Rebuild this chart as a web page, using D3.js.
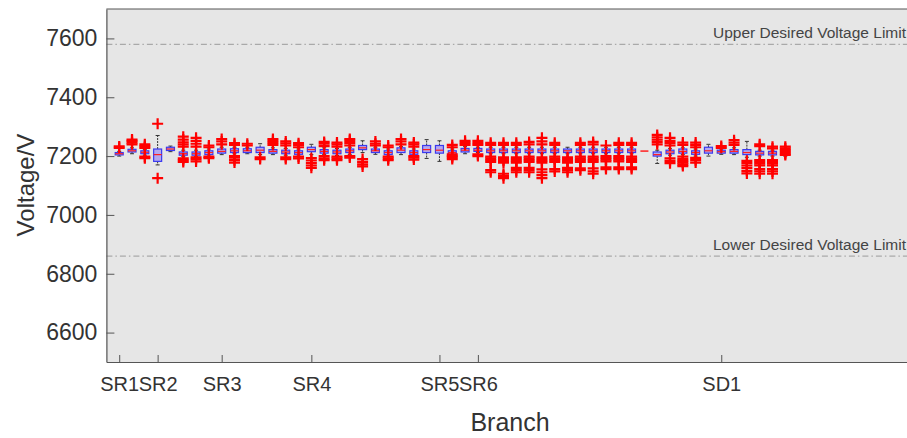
<!DOCTYPE html>
<html>
<head>
<meta charset="utf-8">
<script src="https://cdn.jsdelivr.net/npm/d3@7"></script>
<style>
  html, body { margin: 0; padding: 0; background: #fff; }
  svg { display: block; }
  text { font-family: "Liberation Sans", Arial, sans-serif; fill: #333; }
</style>
</head>
<body>
<svg id="chart" width="907" height="438"></svg>
<script>
// Branch positions (1..53) and their named tick labels
const positions = d3.range(1, 54);
const tickPositions = [1, 4, 9, 16, 26, 29, 48];
const tickLabels = ["SR1", "SR2", "SR3", "SR4", "SR5", "SR6", "SD1"];
const yTicks = [6600, 6800, 7000, 7200, 7400, 7600];

// Box statistics per branch (V)
const q1 = [7204,7214,7208,7182,7219,7203,7203,7205,7210,7212,7212,7212,7210,7208,7206,7215,7210,7208,7212,7222,
            7212,7205,7212,7206,7212,7210,7205,7214,7216,7212,7212,7212,7212,7212,7212,7212,7212,7212,7212,7212,
            7212,7217,7200,7208,7210,7206,7210,7210,7210,7205,7204,7204,7206];
const medians = [7208,7218,7213,7205,7224,7208,7208,7212,7216,7218,7218,7220,7216,7214,7212,7222,7216,7214,7218,7228,
            7218,7212,7220,7212,7222,7220,7212,7220,7220,7218,7218,7218,7218,7218,7218,7218,7218,7218,7218,7218,
            7218,7217,7205,7214,7216,7212,7218,7215,7216,7212,7210,7210,7212];
const q3 = [7212,7223,7218,7224,7230,7214,7214,7218,7224,7225,7225,7230,7222,7220,7218,7230,7222,7220,7224,7236,
            7224,7218,7228,7218,7236,7236,7218,7226,7226,7224,7224,7224,7224,7224,7224,7224,7224,7224,7224,7224,
            7224,7217,7214,7220,7224,7218,7230,7220,7222,7222,7216,7216,7218];
const whiskerLow = [7200,7208,7203,7170,7215,7198,7198,7200,7205,7208,7208,7205,7205,7203,7200,7205,7205,7202,7206,7212,
            7206,7200,7205,7200,7192,7182,7200,7208,7212,7208,7208,7208,7208,7208,7208,7208,7208,7208,7208,7208,
            7208,7217,7175,7203,7205,7200,7200,7206,7205,7196,7200,7200,7200];
const whiskerHigh = [7216,7228,7223,7270,7234,7220,7220,7224,7230,7230,7230,7242,7228,7226,7224,7240,7228,7226,7230,7252,
            7230,7224,7232,7224,7256,7252,7224,7232,7230,7230,7230,7230,7230,7230,7230,7230,7230,7230,7230,7230,
            7230,7217,7220,7225,7228,7224,7240,7224,7228,7250,7220,7220,7222];

// Outlier readings per branch (V)
const outliers = [
  [7228, 7233],
  [7240, 7246, 7252, 7256],
  [7193, 7198, 7228, 7234, 7240],
  [7125, 7310],
  [],
  [7180, 7186, 7192, 7232, 7240, 7247, 7256, 7266],
  [7182, 7190, 7196, 7232, 7242, 7252, 7262],
  [7193, 7198, 7230, 7236],
  [7240, 7250, 7258],
  [7178, 7186, 7195, 7200, 7238, 7244],
  [7236, 7242],
  [7190, 7196],
  [7238, 7245, 7252, 7258],
  [7190, 7196, 7236, 7243, 7250],
  [7192, 7198, 7230, 7238, 7244],
  [7160, 7168, 7176, 7185, 7193],
  [7186, 7192, 7200, 7234, 7242, 7248],
  [7186, 7192, 7198, 7232, 7240, 7246],
  [7195, 7200, 7236, 7244, 7252, 7258],
  [7165, 7172, 7180, 7190],
  [7236, 7242, 7250],
  [7186, 7192, 7198, 7230, 7236],
  [7240, 7250, 7258],
  [7188, 7195, 7200, 7232, 7240, 7246],
  [],
  [],
  [7190, 7196, 7200, 7206, 7230, 7238],
  [7238, 7245, 7252],
  [7200, 7206, 7238, 7244, 7252],
  [7145, 7152, 7180, 7186, 7192, 7198, 7238, 7245],
  [7125, 7133, 7140, 7178, 7184, 7190, 7196, 7238, 7245],
  [7145, 7152, 7160, 7178, 7184, 7190, 7196, 7238, 7245],
  [7145, 7152, 7160, 7180, 7186, 7192, 7198, 7240, 7248],
  [7125, 7135, 7145, 7155, 7178, 7184, 7190, 7196, 7240, 7250, 7262],
  [7148, 7156, 7180, 7186, 7192, 7198, 7238, 7245],
  [7145, 7152, 7160, 7178, 7184, 7190, 7196],
  [7152, 7158, 7180, 7186, 7192, 7198, 7238, 7245],
  [7140, 7148, 7158, 7180, 7186, 7192, 7198, 7240, 7248],
  [7156, 7162, 7182, 7188, 7194, 7200, 7236],
  [7156, 7162, 7182, 7188, 7194, 7200, 7238, 7245],
  [7156, 7162, 7180, 7186, 7192, 7198, 7238, 7245],
  [],
  [7240, 7248, 7256, 7264, 7272],
  [7176, 7184, 7192, 7236, 7244, 7252, 7262],
  [7166, 7172, 7178, 7184, 7190, 7198, 7238, 7246],
  [7178, 7186, 7194, 7230, 7238, 7246],
  [],
  [7228, 7234],
  [7238, 7246, 7254],
  [7141, 7150, 7160, 7168, 7176, 7184],
  [7140, 7148, 7156, 7168, 7174, 7180, 7186, 7234, 7240],
  [7140, 7148, 7156, 7168, 7174, 7180, 7186, 7226, 7232],
  [7204, 7208, 7214, 7220, 7226, 7232]
];

// Desired voltage band
const limitValues = [7580, 6860];
const limitLabels = ["Upper Desired Voltage Limit", "Lower Desired Voltage Limit"];

const svg = d3.select("#chart");
const plotLeft = 106.4, plotRight = 907, plotTop = 9, plotBottom = 362;

const x = d3.scaleLinear().domain([0, 62.5]).range([plotLeft, plotRight]);
const y = d3.scaleLinear().domain([6500, 7700]).range([plotBottom, plotTop]);

// Plot background
svg.append("rect")
  .attr("x", plotLeft).attr("y", plotTop)
  .attr("width", plotRight - plotLeft).attr("height", plotBottom - plotTop)
  .attr("fill", "#e6e6e6");

// Limit lines and their captions
limitValues.forEach((v, i) => {
  svg.append("line")
    .attr("x1", plotLeft).attr("x2", plotRight)
    .attr("y1", y(v)).attr("y2", y(v))
    .attr("stroke", "#9a9a9a").attr("stroke-width", 1)
    .attr("stroke-dasharray", "6,3,1.5,3");
  svg.append("text")
    .attr("x", 906).attr("y", y(v) - 6)
    .attr("text-anchor", "end")
    .attr("font-size", 15.5)
    .style("fill", "#444")
    .text(limitLabels[i]);
});

// Axes with inward ticks
const yAxis = d3.axisLeft(y).tickValues(yTicks).tickFormat(d3.format("d"))
  .tickSizeInner(-8).tickSizeOuter(0).tickPadding(9);
const gy = svg.append("g").attr("transform", `translate(${plotLeft},0)`).call(yAxis);
gy.selectAll("text").attr("font-size", 23);

const xAxis = d3.axisBottom(x).tickValues(tickPositions)
  .tickFormat((d, i) => tickLabels[i]).tickSizeInner(-7).tickSizeOuter(0).tickPadding(15);
const gx = svg.append("g").attr("transform", `translate(0,${plotBottom})`).call(xAxis);
gx.selectAll("text").attr("font-size", 20);

[gx, gy].forEach(g => {
  g.select(".domain").attr("stroke", "#555").attr("stroke-width", 1.2);
  g.selectAll(".tick line").attr("stroke", "#555");
  g.selectAll("text").style("fill", "#333").attr("font-family", "Liberation Sans, Arial, sans-serif");
});
// Top frame edge
svg.append("line").attr("x1", plotLeft).attr("x2", plotRight).attr("y1", plotTop).attr("y2", plotTop)
  .attr("stroke", "#555").attr("stroke-width", 1);

// Box plots
const bw = 8;
const boxes = svg.append("g");
positions.forEach((p, i) => {
  const cx = x(p);
  const g = boxes.append("g");
  if (q1[i] === q3[i]) {
    g.append("line").attr("x1", cx - bw / 2).attr("x2", cx + bw / 2)
      .attr("y1", y(medians[i])).attr("y2", y(medians[i]))
      .attr("stroke", "#ff2020").attr("stroke-width", 1.5);
    return;
  }
  // whiskers
  g.append("line").attr("x1", cx).attr("x2", cx)
    .attr("y1", y(q3[i])).attr("y2", y(whiskerHigh[i]))
    .attr("stroke", "#333").attr("stroke-width", 1).attr("stroke-dasharray", "2,1");
  g.append("line").attr("x1", cx).attr("x2", cx)
    .attr("y1", y(q1[i])).attr("y2", y(whiskerLow[i]))
    .attr("stroke", "#333").attr("stroke-width", 1).attr("stroke-dasharray", "2,1");
  [whiskerHigh[i], whiskerLow[i]].forEach(w => {
    g.append("line").attr("x1", cx - bw / 4).attr("x2", cx + bw / 4)
      .attr("y1", y(w)).attr("y2", y(w))
      .attr("stroke", "#333").attr("stroke-width", 1);
  });
  // box
  g.append("rect")
    .attr("x", cx - bw / 2).attr("y", y(q3[i]))
    .attr("width", bw).attr("height", y(q1[i]) - y(q3[i]))
    .attr("fill", "#b4a8ee").attr("stroke", "#3a3af0").attr("stroke-width", 1.2);
  // median
  g.append("line").attr("x1", cx - bw / 2).attr("x2", cx + bw / 2)
    .attr("y1", y(medians[i])).attr("y2", y(medians[i]))
    .attr("stroke", "#ff2020").attr("stroke-width", 1.2);
});

// Outlier markers (+)
const ms = 5.5;
const marks = svg.append("g").attr("stroke", "#ff0000").attr("stroke-width", 2.2);
positions.forEach((p, i) => {
  outliers[i].forEach(v => {
    const cx = x(p), cy = y(v);
    marks.append("path")
      .attr("d", `M${cx - ms},${cy}H${cx + ms}M${cx},${cy - ms}V${cy + ms}`)
      .attr("fill", "none");
  });
});

// Axis titles
svg.append("text")
  .attr("x", 510).attr("y", 431)
  .attr("text-anchor", "middle")
  .attr("font-size", 25)
  .text("Branch");
svg.append("text")
  .attr("transform", "translate(34,185) rotate(-90)")
  .attr("text-anchor", "middle")
  .attr("font-size", 24)
  .text("Voltage/V");
</script>
</body>
</html>
